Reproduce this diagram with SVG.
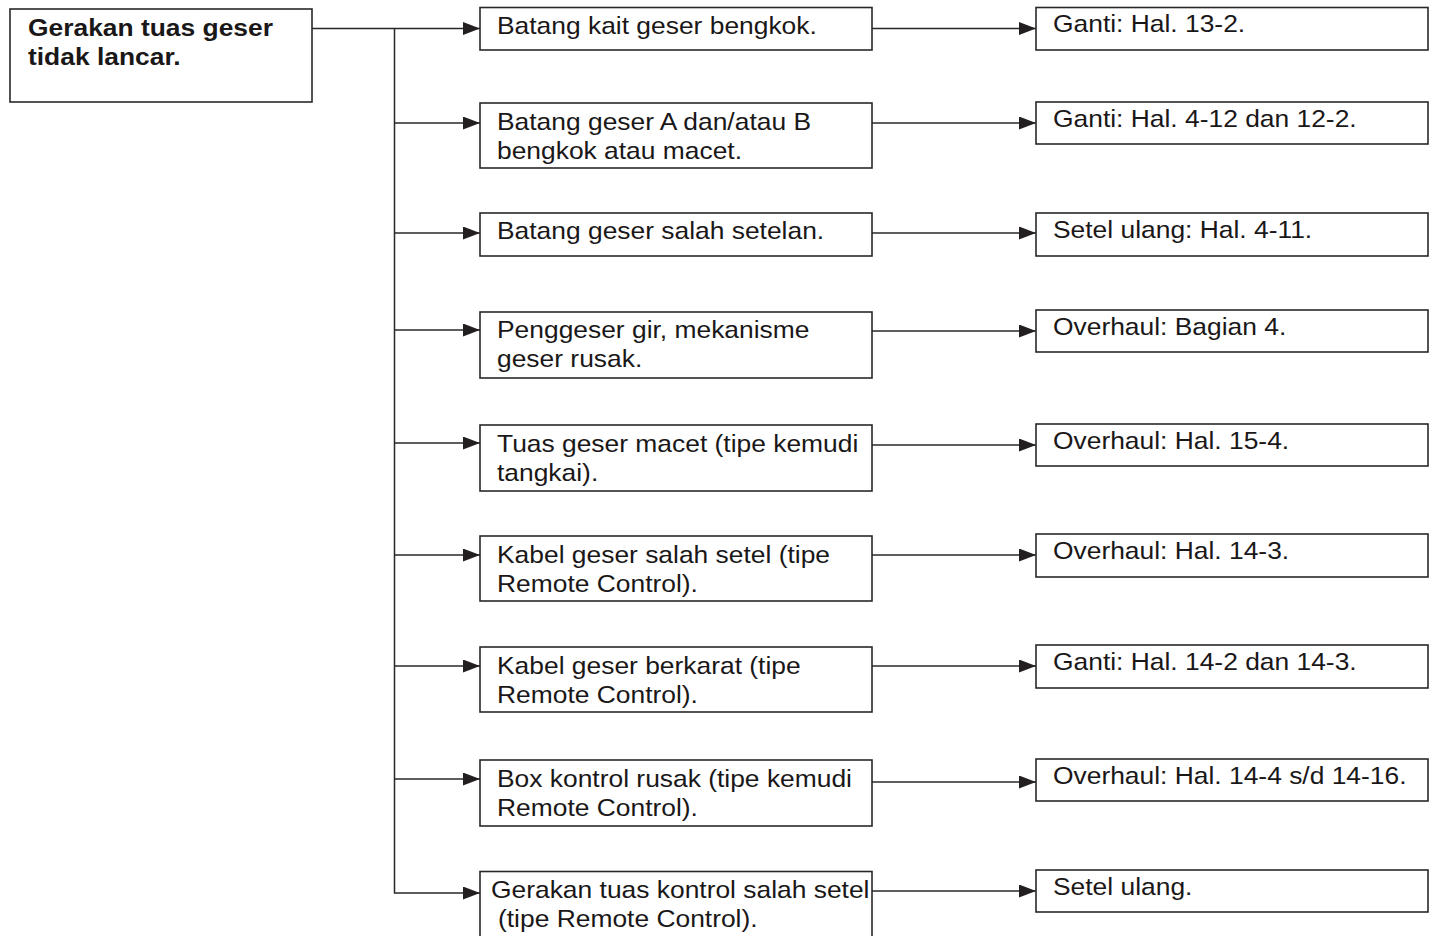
<svg xmlns="http://www.w3.org/2000/svg" width="1436" height="936" viewBox="0 0 1436 936">
<defs>
<style>
.box{fill:#fff;stroke:#2b2728;stroke-width:1.6}
.ln{fill:none;stroke:#2b2728;stroke-width:1.5}
.t{font-family:"Liberation Sans",Arial,sans-serif;font-size:24px;fill:#1a1718}
.b{font-weight:bold}
</style>
<marker id="ah" markerUnits="userSpaceOnUse" markerWidth="18" markerHeight="14" refX="17" refY="6.5" orient="auto">
<path d="M0,0 L17,6.5 L0,13 z" fill="#231f20"/>
</marker>
</defs>
<rect width="1436" height="936" fill="#fff"/>

<g id="connectors">
<path class="ln" d="M312,28.5 H480" marker-end="url(#ah)"/>
<path class="ln" d="M394.5,28.5 V893 H480" marker-end="url(#ah)"/>
<path class="ln" d="M394.5,123 H480" marker-end="url(#ah)"/>
<path class="ln" d="M394.5,233 H480" marker-end="url(#ah)"/>
<path class="ln" d="M394.5,330 H480" marker-end="url(#ah)"/>
<path class="ln" d="M394.5,443 H480" marker-end="url(#ah)"/>
<path class="ln" d="M394.5,555 H480" marker-end="url(#ah)"/>
<path class="ln" d="M394.5,666 H480" marker-end="url(#ah)"/>
<path class="ln" d="M394.5,779 H480" marker-end="url(#ah)"/>
<path class="ln" d="M872,28.5 H1036" marker-end="url(#ah)"/>
<path class="ln" d="M872,123 H1036" marker-end="url(#ah)"/>
<path class="ln" d="M872,233 H1036" marker-end="url(#ah)"/>
<path class="ln" d="M872,331 H1036" marker-end="url(#ah)"/>
<path class="ln" d="M872,445 H1036" marker-end="url(#ah)"/>
<path class="ln" d="M872,555 H1036" marker-end="url(#ah)"/>
<path class="ln" d="M872,666 H1036" marker-end="url(#ah)"/>
<path class="ln" d="M872,782 H1036" marker-end="url(#ah)"/>
<path class="ln" d="M872,891 H1036" marker-end="url(#ah)"/>
</g>

<g id="main">
<rect class="box" x="10" y="9" width="302" height="93"/>
<text class="t b" transform="translate(28,36) scale(1.1,1)">Gerakan tuas geser</text>
<text class="t b" transform="translate(28,65) scale(1.1,1)">tidak lancar.</text>
</g>

<g id="c1">
<rect class="box" x="480" y="7.5" width="392" height="42.5"/>
<text class="t" transform="translate(497,34) scale(1.1,1)">Batang kait geser bengkok.</text>
</g>
<g id="c2">
<rect class="box" x="480" y="103" width="392" height="65"/>
<text class="t" transform="translate(497,130) scale(1.1,1)">Batang geser A dan/atau B</text>
<text class="t" transform="translate(497,159) scale(1.1,1)">bengkok atau macet.</text>
</g>
<g id="c3">
<rect class="box" x="480" y="213" width="392" height="43"/>
<text class="t" transform="translate(497,239) scale(1.1,1)">Batang geser salah setelan.</text>
</g>
<g id="c4">
<rect class="box" x="480" y="312" width="392" height="66"/>
<text class="t" transform="translate(497,338) scale(1.1,1)">Penggeser gir, mekanisme</text>
<text class="t" transform="translate(497,367) scale(1.1,1)">geser rusak.</text>
</g>
<g id="c5">
<rect class="box" x="480" y="425" width="392" height="66"/>
<text class="t" transform="translate(497,452) scale(1.1,1)">Tuas geser macet (tipe kemudi</text>
<text class="t" transform="translate(497,481) scale(1.1,1)">tangkai).</text>
</g>
<g id="c6">
<rect class="box" x="480" y="536" width="392" height="65"/>
<text class="t" transform="translate(497,563) scale(1.1,1)">Kabel geser salah setel (tipe</text>
<text class="t" transform="translate(497,592) scale(1.1,1)">Remote Control).</text>
</g>
<g id="c7">
<rect class="box" x="480" y="647" width="392" height="65"/>
<text class="t" transform="translate(497,674) scale(1.1,1)">Kabel geser berkarat (tipe</text>
<text class="t" transform="translate(497,703) scale(1.1,1)">Remote Control).</text>
</g>
<g id="c8">
<rect class="box" x="480" y="760" width="392" height="66"/>
<text class="t" transform="translate(497,787) scale(1.1,1)">Box kontrol rusak (tipe kemudi</text>
<text class="t" transform="translate(497,816) scale(1.1,1)">Remote Control).</text>
</g>
<g id="c9">
<rect class="box" x="480" y="871.5" width="392" height="70"/>
<text class="t" transform="translate(491,898) scale(1.1,1)">Gerakan tuas kontrol salah setel</text>
<text class="t" transform="translate(498,927) scale(1.1,1)">(tipe Remote Control).</text>
</g>

<g id="r1">
<rect class="box" x="1036" y="7.5" width="392" height="42.5"/>
<text class="t" transform="translate(1053,32) scale(1.1,1)">Ganti: Hal. 13-2.</text>
</g>
<g id="r2">
<rect class="box" x="1036" y="102" width="392" height="42"/>
<text class="t" transform="translate(1053,127) scale(1.1,1)">Ganti: Hal. 4-12 dan 12-2.</text>
</g>
<g id="r3">
<rect class="box" x="1036" y="213" width="392" height="43"/>
<text class="t" transform="translate(1053,238) scale(1.1,1)">Setel ulang: Hal. 4-11.</text>
</g>
<g id="r4">
<rect class="box" x="1036" y="310" width="392" height="42"/>
<text class="t" transform="translate(1053,335) scale(1.1,1)">Overhaul: Bagian 4.</text>
</g>
<g id="r5">
<rect class="box" x="1036" y="424" width="392" height="42"/>
<text class="t" transform="translate(1053,449) scale(1.1,1)">Overhaul: Hal. 15-4.</text>
</g>
<g id="r6">
<rect class="box" x="1036" y="534" width="392" height="43"/>
<text class="t" transform="translate(1053,559) scale(1.1,1)">Overhaul: Hal. 14-3.</text>
</g>
<g id="r7">
<rect class="box" x="1036" y="645" width="392" height="43"/>
<text class="t" transform="translate(1053,670) scale(1.1,1)">Ganti: Hal. 14-2 dan 14-3.</text>
</g>
<g id="r8">
<rect class="box" x="1036" y="759" width="392" height="42"/>
<text class="t" transform="translate(1053,784) scale(1.1,1)">Overhaul: Hal. 14-4 s/d 14-16.</text>
</g>
<g id="r9">
<rect class="box" x="1036" y="870" width="392" height="42"/>
<text class="t" transform="translate(1053,895) scale(1.1,1)">Setel ulang.</text>
</g>
</svg>
